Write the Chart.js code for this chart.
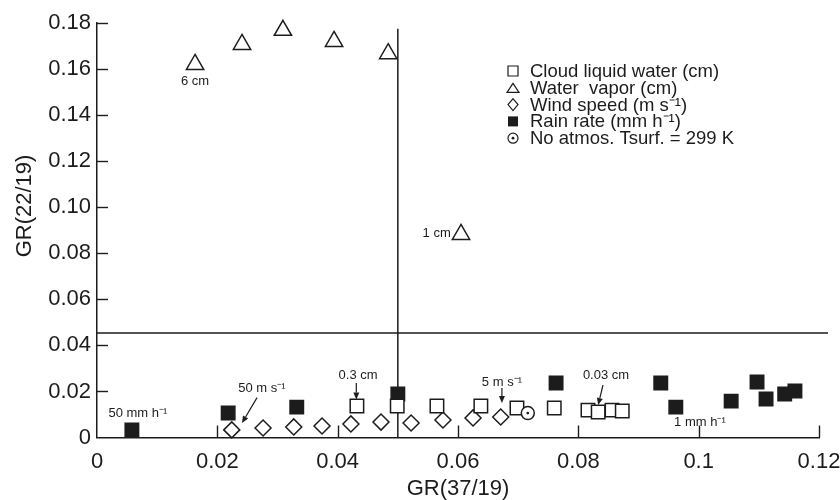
<!DOCTYPE html>
<html>
<head>
<meta charset="utf-8">
<script src="https://cdn.jsdelivr.net/npm/chart.js@4.4.0/dist/chart.umd.min.js"></script>
<style>
  html, body { margin: 0; padding: 0; background: #fff; }
  #wrap { width: 840px; height: 500px; }
</style>
</head>
<body>
<div id="wrap"><canvas id="chart" width="840" height="500"></canvas></div>
<script>
const INK = "#1c1c1c";
const FONT = "'Liberation Sans', Arial, Helvetica, sans-serif";

// tick values / labels
const xTickValues = [0, 0.02, 0.04, 0.06, 0.08, 0.1, 0.12];
const xTickLabels = ["0", "0.02", "0.04", "0.06", "0.08", "0.1", "0.12"];
const yTickValues = [0, 0.02, 0.04, 0.06, 0.08, 0.10, 0.12, 0.14, 0.16, 0.18];
const yTickLabels = ["0", "0.02", "0.04", "0.06", "0.08", "0.10", "0.12", "0.14", "0.16", "0.18"];

// series: [GR(37/19), GR(22/19)]
const cloudWaterX = [0.0432, 0.0499, 0.0565, 0.0638, 0.0698, 0.0760, 0.0816, 0.0833, 0.0856, 0.0873];
const cloudWaterY = [0.0137, 0.0137, 0.0137, 0.0137, 0.0128, 0.0128, 0.0119, 0.0111, 0.0119, 0.0115];

const waterVaporX = [0.0163, 0.0241, 0.0309, 0.0394, 0.0484, 0.0605];
const waterVaporY = [0.1620, 0.1707, 0.1768, 0.1720, 0.1667, 0.0882];

const windSpeedX = [0.0224, 0.0276, 0.0327, 0.0374, 0.0422, 0.0472, 0.0522, 0.0575, 0.0625, 0.0671];
const windSpeedY = [0.0033, 0.0041, 0.0046, 0.0050, 0.0059, 0.0067, 0.0063, 0.0076, 0.0085, 0.0089];

const rainRateX = [0.0058, 0.0218, 0.0332, 0.0500, 0.0763, 0.0937, 0.0962, 0.1054, 0.1097, 0.1112, 0.1143, 0.1160];
const rainRateY = [0.0033, 0.0106, 0.0132, 0.0189, 0.0237, 0.0237, 0.0132, 0.0158, 0.0241, 0.0167, 0.0189, 0.0202];

const noAtmosX = [0.0716];
const noAtmosY = [0.0106];

// reference lines
const vLineX = [0.05, 0.05];
const vLineY = [0, 0.1775];
const hLineX = [0, 0.1215];
const hLineY = [0.0454, 0.0454];

const legendLabels = [
  "Cloud liquid water (cm)",
  "Water  vapor (cm)",
  "Wind speed (m s\u207B\u00B9)",
  "Rain rate (mm h\u207B\u00B9)",
  "No atmos. Tsurf. = 299 K",
];
const legendSymbols = ["square", "triangle", "diamond", "filled", "circledot"];

// annotation text [label, x, y, align]
const notes = [
  ["6 cm", 0.0163, 0.1547, "center"],
  ["1 cm", 0.0588, 0.0888, "right"],
  ["50 mm h\u207B\u00B9", 0.0068, 0.0106, "center"],
  ["50 m s\u207B\u00B9", 0.0274, 0.0215, "center"],
  ["0.3 cm", 0.0434, 0.0268, "center"],
  ["5 m s\u207B\u00B9", 0.0673, 0.0241, "center"],
  ["0.03 cm", 0.0846, 0.0271, "center"],
  ["1 mm h\u207B\u00B9", 0.1002, 0.0067, "center"],
];
// arrows [x0, y0, x1, y1]
const arrows = [
  [0.0266, 0.0173, 0.0241, 0.0063],
  [0.0431, 0.0237, 0.0431, 0.0165],
  [0.0673, 0.0215, 0.0673, 0.0150],
  [0.0841, 0.0228, 0.0833, 0.0141],
];

function pts(xs, ys) {
  return xs.map((v, i) => ({ x: v, y: ys[i] }));
}

function drawSymbol(ctx, kind, cx, cy, s) {
  ctx.beginPath();
  if (kind === "square" || kind === "filled") {
    ctx.rect(cx - s / 2, cy - s / 2, s, s);
  } else if (kind === "triangle") {
    const h = s * 0.9;
    ctx.moveTo(cx, cy - h / 2);
    ctx.lineTo(cx + s / 2 + 1, cy + h / 2);
    ctx.lineTo(cx - s / 2 - 1, cy + h / 2);
    ctx.closePath();
  } else if (kind === "diamond") {
    ctx.moveTo(cx, cy - s / 2 - 1);
    ctx.lineTo(cx + s / 2, cy);
    ctx.lineTo(cx, cy + s / 2 + 1);
    ctx.lineTo(cx - s / 2, cy);
    ctx.closePath();
  } else if (kind === "circledot") {
    ctx.arc(cx, cy, s / 2, 0, Math.PI * 2);
  }
  if (kind === "filled") {
    ctx.fill();
  } else {
    ctx.stroke();
  }
  if (kind === "circledot") {
    ctx.beginPath();
    ctx.arc(cx, cy, 1.4, 0, Math.PI * 2);
    ctx.fill();
  }
}

const overlay = {
  id: "overlay",
  beforeDatasetsDraw(chart) {
    const { ctx } = chart;
    const x = chart.scales.x;
    const y = chart.scales.y;
    ctx.save();
    ctx.strokeStyle = INK;
    ctx.lineWidth = 1.5;
    // divider lines
    ctx.beginPath();
    ctx.moveTo(x.getPixelForValue(vLineX[0]), y.getPixelForValue(vLineY[0]));
    ctx.lineTo(x.getPixelForValue(vLineX[1]), y.getPixelForValue(vLineY[1]));
    ctx.moveTo(x.getPixelForValue(hLineX[0]), y.getPixelForValue(hLineY[0]));
    ctx.lineTo(x.getPixelForValue(hLineX[1]), y.getPixelForValue(hLineY[1]));
    ctx.stroke();
    ctx.restore();
  },
  afterDatasetsDraw(chart) {
    const { ctx } = chart;
    const x = chart.scales.x;
    const y = chart.scales.y;
    ctx.save();
    ctx.strokeStyle = INK;
    ctx.fillStyle = INK;
    ctx.lineWidth = 1.4;

    // inward ticks
    yTickValues.forEach(v => {
      if (v === 0) return;
      const py = Math.round(y.getPixelForValue(v)) + 0.5;
      ctx.beginPath();
      ctx.moveTo(x.left, py);
      ctx.lineTo(x.left + 11, py);
      ctx.stroke();
    });
    xTickValues.forEach(v => {
      if (v === 0) return;
      const px = Math.round(x.getPixelForValue(v)) + 0.5;
      ctx.beginPath();
      ctx.moveTo(px, y.bottom);
      ctx.lineTo(px, y.bottom - 12);
      ctx.stroke();
    });

    // y axis title
    ctx.save();
    ctx.translate(25, 206);
    ctx.rotate(-Math.PI / 2);
    ctx.font = "22px " + FONT;
    ctx.textAlign = "center";
    ctx.textBaseline = "middle";
    ctx.fillText("GR(22/19)", 0, 0);
    ctx.restore();

    // annotations
    ctx.font = "13px " + FONT;
    ctx.textBaseline = "middle";
    notes.forEach(([t, vx, vy, align]) => {
      ctx.textAlign = align;
      ctx.fillText(t, x.getPixelForValue(vx), y.getPixelForValue(vy));
    });
    ctx.lineWidth = 1.2;
    arrows.forEach(([x0, y0, x1, y1]) => {
      const ax = x.getPixelForValue(x0), ay = y.getPixelForValue(y0);
      const bx = x.getPixelForValue(x1), by = y.getPixelForValue(y1);
      const ang = Math.atan2(by - ay, bx - ax);
      const hl = 7, hw = 3;
      ctx.beginPath();
      ctx.moveTo(ax, ay);
      ctx.lineTo(bx - Math.cos(ang) * hl, by - Math.sin(ang) * hl);
      ctx.stroke();
      ctx.beginPath();
      ctx.moveTo(bx, by);
      ctx.lineTo(bx - Math.cos(ang) * hl - Math.sin(ang) * hw, by - Math.sin(ang) * hl + Math.cos(ang) * hw);
      ctx.lineTo(bx - Math.cos(ang) * hl + Math.sin(ang) * hw, by - Math.sin(ang) * hl - Math.cos(ang) * hw);
      ctx.closePath();
      ctx.fill();
    });

    // legend
    ctx.font = "18.5px " + FONT;
    ctx.textAlign = "left";
    ctx.lineWidth = 1.2;
    legendLabels.forEach((t, i) => {
      const ly = 71 + i * 16.8;
      drawSymbol(ctx, legendSymbols[i], 513, ly, 10);
      ctx.fillText(t, 530, ly + 1);
    });
    ctx.restore();
  },
};

const markerBase = {
  showLine: false,
  clip: false,
  borderColor: INK,
  borderWidth: 1.5,
  pointBorderColor: INK,
  pointBorderWidth: 1.5,
  pointHoverRadius: 0,
};

new Chart(document.getElementById("chart"), {
  type: "scatter",
  data: {
    datasets: [
      { ...markerBase, label: "Cloud liquid water (cm)", data: pts(cloudWaterX, cloudWaterY),
        pointStyle: "rect", pointRadius: 9.5, pointBackgroundColor: "#fff", order: 1 },
      { ...markerBase, label: "Water vapor (cm)", data: pts(waterVaporX, waterVaporY),
        pointStyle: "triangle", pointRadius: 10, pointBackgroundColor: "rgba(255,255,255,0)", order: 1 },
      { ...markerBase, label: "Wind speed", data: pts(windSpeedX, windSpeedY),
        pointStyle: "rectRot", pointRadius: 8, pointBackgroundColor: "#fff", order: 1 },
      { ...markerBase, label: "Rain rate", data: pts(rainRateX, rainRateY),
        pointStyle: "rect", pointRadius: 9.5, pointBackgroundColor: INK, order: 2 },
      { ...markerBase, label: "No atmos.", data: pts(noAtmosX, noAtmosY),
        pointStyle: "circle", pointRadius: 6.5, pointBackgroundColor: "#fff", order: 0 },
      { ...markerBase, label: "No atmos. dot", data: pts(noAtmosX, noAtmosY),
        pointStyle: "circle", pointRadius: 1.4, pointBorderWidth: 0, pointBackgroundColor: INK, order: -1 },
    ],
  },
  options: {
    responsive: false,
    animation: false,
    events: [],
    layout: { padding: { top: 23, right: 21, left: 0, bottom: 0 } },
    plugins: { legend: { display: false }, tooltip: { enabled: false } },
    scales: {
      x: {
        type: "linear",
        min: 0,
        max: 0.12,
        afterFit: s => { s.height = 62.5; s.paddingLeft = 0; s.paddingRight = 0; },
        afterBuildTicks: s => { s.ticks = xTickValues.map(v => ({ value: v })); },
        grid: { display: true, drawOnChartArea: false, drawTicks: false },
        border: { display: true, color: INK, width: 1.5 },
        ticks: {
          color: INK,
          padding: 11,
          maxRotation: 0,
          autoSkip: false,
          font: { family: FONT, size: 22 },
          callback: (v, i) => xTickLabels[i],
        },
        title: {
          display: true,
          text: "GR(37/19)",
          color: INK,
          font: { family: FONT, size: 22, lineHeight: 1 },
          padding: { top: 0, bottom: 0 },
        },
      },
      y: {
        type: "linear",
        min: 0,
        max: 0.18,
        afterFit: s => { s.width = 97; s.paddingTop = 0; s.paddingBottom = 0; },
        afterBuildTicks: s => { s.ticks = yTickValues.map(v => ({ value: v })); },
        grid: { display: true, drawOnChartArea: false, drawTicks: false },
        border: { display: true, color: INK, width: 1.5 },
        ticks: {
          color: INK,
          padding: 6,
          autoSkip: false,
          font: { family: FONT, size: 22 },
          callback: (v, i) => yTickLabels[i],
        },
      },
    },
  },
  plugins: [overlay],
});
</script>
</body>
</html>
